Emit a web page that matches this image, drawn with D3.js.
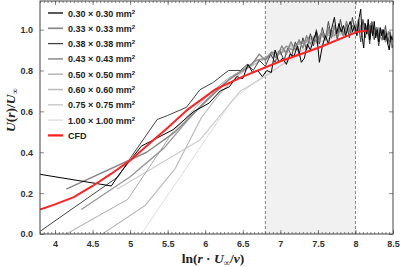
<!DOCTYPE html>
<html>
<head>
<meta charset="utf-8">
<script src="https://cdn.jsdelivr.net/npm/d3@7"></script>
<style>
  body { margin: 0; background: #fff; }
  svg { display: block; }
  .tick text { font-family: "Liberation Sans", Arial, sans-serif; font-weight: bold; font-size: 9px; fill: #333; }
</style>
</head>
<body>
<div id="chart"></div>
<script>
// legend labels and line colours
const seriesNames = ['0.30 × 0.30 mm', '0.33 × 0.33 mm', '0.38 × 0.38 mm', '0.43 × 0.43 mm',
                     '0.50 × 0.50 mm', '0.60 × 0.60 mm', '0.75 × 0.75 mm', '1.00 × 1.00 mm'];
const seriesColors = ['#000000', '#888888', '#444444', '#999999', '#aaaaaa', '#bbbbbb', '#cccccc', '#dddddd'];
const seriesWidths = [1, 1.4, 1, 1.4, 1, 1.2, 1.2, 1];

const xTicks = [4, 4.5, 5, 5.5, 6, 6.5, 7, 7.5, 8, 8.5];
const yTicks = [0, 0.2, 0.4, 0.6, 0.8, 1.0];
const shadeRange = [6.8, 8.0];

// grid series, [ln(r U/nu), U/Uinf]
const s030 = [[3.5,0.31],[4.75,0.235],[4.85,0.29],[5.15,0.43],[5.57,0.51],[5.85,0.6],[6.05,0.64],[6.2,0.7],[6.32,0.72],[6.42,0.77],[6.5,0.76],[6.57,0.83],[6.63,0.79],[6.7,0.8],[6.76,0.77],[6.82,0.8],[6.88,0.79],[6.93,0.9],[6.98,0.84],[7.03,0.86],[7.08,0.83],[7.13,0.88],[7.18,0.87],[7.23,0.92],[7.28,0.84],[7.32,0.86],[7.36,0.93],[7.4,0.9],[7.44,0.95],[7.48,0.99],[7.52,0.84],[7.56,0.92],[7.6,0.97],[7.64,0.93],[7.68,1.0],[7.72,1.06],[7.75,0.98],[7.78,1.03],[7.81,0.99],[7.84,1.02],[7.87,0.97],[7.9,1.01],[7.93,1.04],[7.96,0.99],[7.99,1.02],[8.02,0.97],[8.05,1.06],[8.07,1.1],[8.09,0.96],[8.11,0.91],[8.13,1.03],[8.15,0.98],[8.17,1.05],[8.19,0.95],[8.21,1.02],[8.23,0.97],[8.25,1.04],[8.27,0.96],[8.29,1.0],[8.31,0.94],[8.33,1.01],[8.35,0.97],[8.37,1.0],[8.39,0.95],[8.41,0.98],[8.43,0.93],[8.45,0.9],[8.47,0.97],[8.49,0.95],[8.51,0.97]];
const s033 = [[4.15,0.22],[5.22,0.40],[5.6,0.5],[5.9,0.61],[6.1,0.68],[6.3,0.75],[6.5,0.8],[6.62,0.83],[6.72,0.88],[6.8,0.85],[6.88,0.89],[6.95,0.86],[7.02,0.92],[7.08,0.88],[7.14,0.94],[7.2,0.9],[7.25,0.95],[7.3,0.91],[7.35,0.97],[7.4,0.93],[7.45,0.96],[7.5,0.93],[7.55,0.99],[7.6,0.95],[7.64,1.01],[7.68,0.96],[7.72,1.02],[7.76,0.97],[7.8,1.0],[7.84,0.97],[7.88,1.04],[7.92,0.99],[7.96,1.02],[8.0,0.99],[8.04,1.05],[8.08,0.98],[8.12,1.03],[8.16,0.98],[8.2,1.03],[8.24,0.96],[8.28,1.01],[8.32,0.96],[8.36,1.0],[8.4,0.94],[8.44,0.99],[8.48,0.93],[8.52,0.97]];
const s038 = [[3.75,0.0],[4.84,0.28],[5.0,0.37],[5.36,0.56],[5.5,0.58],[5.75,0.62],[5.93,0.706],[6.1,0.74],[6.31,0.8],[6.47,0.8],[6.56,0.83],[6.64,0.8],[6.72,0.85],[6.8,0.82],[6.87,0.88],[6.93,0.84],[6.99,0.9],[7.05,0.85],[7.1,0.91],[7.15,0.87],[7.2,0.94],[7.25,0.88],[7.3,0.96],[7.35,0.9],[7.4,0.98],[7.44,0.92],[7.48,1.0],[7.52,0.93],[7.56,1.01],[7.6,0.95],[7.64,1.04],[7.68,0.96],[7.72,1.02],[7.76,0.95],[7.8,1.05],[7.84,0.97],[7.88,1.03],[7.92,0.96],[7.96,1.06],[8.0,0.98],[8.04,1.03],[8.07,0.94],[8.1,1.05],[8.13,0.96],[8.16,1.02],[8.19,0.93],[8.22,1.04],[8.25,0.95],[8.28,1.01],[8.31,0.92],[8.34,1.0],[8.37,0.95],[8.4,1.02],[8.43,0.93],[8.46,0.99],[8.49,0.91],[8.52,0.96]];
const s043 = [[4.35,0.12],[5.0,0.28],[5.45,0.42],[5.75,0.55],[6.0,0.65],[6.2,0.72],[6.4,0.78],[6.55,0.81],[6.68,0.85],[6.8,0.86],[6.9,0.89],[7.0,0.88],[7.08,0.92],[7.16,0.9],[7.24,0.94],[7.32,0.93],[7.4,0.97],[7.47,0.94],[7.54,0.98],[7.6,0.95],[7.66,1.0],[7.72,0.97],[7.78,1.01],[7.84,0.97],[7.9,1.02],[7.95,0.98],[8.0,1.03],[8.05,0.99],[8.1,1.04],[8.15,0.98],[8.2,1.02],[8.25,0.96],[8.3,1.01],[8.35,0.95],[8.4,0.99],[8.45,0.94],[8.5,0.97]];
const s050 = [[4.15,0.0],[4.97,0.17],[5.57,0.5],[5.85,0.61],[6.1,0.7],[6.3,0.76],[6.48,0.8],[6.64,0.84],[6.78,0.86],[6.9,0.88],[7.01,0.9],[7.11,0.92],[7.2,0.92],[7.29,0.94],[7.37,0.95],[7.45,0.97],[7.52,0.96],[7.59,0.98],[7.66,0.97],[7.72,1.0],[7.78,0.98],[7.84,1.01],[7.9,0.99],[7.95,1.02],[8.0,1.0],[8.05,1.03],[8.1,0.99],[8.15,1.02],[8.2,0.98],[8.25,1.01],[8.3,0.97],[8.35,0.99],[8.4,0.96],[8.45,0.98],[8.5,0.95]];
const s060 = [[4.63,0.0],[5.2,0.14],[5.6,0.32],[5.95,0.57],[6.2,0.69],[6.42,0.77],[6.6,0.82],[6.76,0.85],[6.9,0.87],[7.03,0.89],[7.15,0.91],[7.26,0.93],[7.36,0.94],[7.45,0.96],[7.54,0.96],[7.62,0.98],[7.7,0.98],[7.77,1.0],[7.84,0.99],[7.9,1.01],[7.96,1.0],[8.02,1.02],[8.08,1.0],[8.13,1.02],[8.19,0.99],[8.24,1.01],[8.29,0.97],[8.34,0.99],[8.39,0.96],[8.44,0.98],[8.49,0.95],[8.54,0.96]];
const s075 = [[4.83,0.22],[5.93,0.46],[6.47,0.70],[6.84,0.78],[7.1,0.85],[7.3,0.9],[7.46,0.93],[7.6,0.95],[7.72,0.97],[7.82,0.98],[7.92,0.99],[8.0,1.0],[8.08,1.0],[8.15,0.99],[8.22,1.0],[8.28,0.98],[8.34,0.99],[8.4,0.97],[8.46,0.98],[8.52,0.96]];
const s100 = [[5.15,0.0],[6.0,0.46],[6.37,0.66],[6.8,0.78],[7.09,0.84],[7.31,0.88],[7.5,0.92],[7.65,0.95],[7.78,0.97],[7.9,0.98],[8.0,0.99],[8.09,1.0],[8.18,0.99],[8.26,1.0],[8.33,0.98],[8.4,0.99],[8.46,0.97],[8.52,0.98]];
const cfd  = [[3.8,0.12],[4.0,0.145],[4.25,0.18],[4.5,0.235],[4.75,0.295],[5.0,0.36],[5.25,0.44],[5.5,0.52],[5.77,0.61],[6.13,0.706],[6.5,0.77],[7.0,0.845],[7.5,0.91],[8.03,0.99],[8.15,0.995]];

const gridSeries = [s030, s033, s038, s043, s050, s060, s075, s100];

const width = 400, height = 267;
const margin = { top: 1, right: 7, bottom: 33, left: 40 };
const iw = width - margin.left - margin.right;
const ih = height - margin.top - margin.bottom;

const x = d3.scaleLinear().domain([3.8, 8.5]).range([0, iw]);
const y = d3.scaleLinear().domain([0, 1.14]).range([ih, 0]);

const svg = d3.select('#chart').append('svg')
    .attr('width', width)
    .attr('height', height);

const g = svg.append('g').attr('transform', `translate(${margin.left},${margin.top})`);

svg.append('defs').append('clipPath').attr('id', 'clip')
  .append('rect').attr('width', iw).attr('height', ih);

// shaded window
g.append('rect')
    .attr('x', x(shadeRange[0]))
    .attr('y', 0)
    .attr('width', x(shadeRange[1]) - x(shadeRange[0]))
    .attr('height', ih)
    .attr('fill', '#f1f1f1');
shadeRange.forEach(v => {
  g.append('line')
      .attr('x1', x(v)).attr('x2', x(v))
      .attr('y1', 0).attr('y2', ih)
      .attr('stroke', '#666').attr('stroke-width', 0.8)
      .attr('stroke-dasharray', '3,2');
});

const line = d3.line().x(d => x(d[0])).y(d => y(d[1]));

const lines = g.append('g').attr('clip-path', 'url(#clip)');
// lightest drawn first so the dark ones sit on top
for (let i = gridSeries.length - 1; i >= 0; i--) {
  lines.append('path')
      .datum(gridSeries[i])
      .attr('fill', 'none')
      .attr('stroke', seriesColors[i])
      .attr('stroke-width', seriesWidths[i])
      .attr('stroke-linejoin', 'round')
      .attr('d', line);
}
lines.append('path')
    .datum(cfd)
    .attr('fill', 'none')
    .attr('stroke', '#ff2222')
    .attr('stroke-width', 2)
    .attr('d', line);

// axes, ticks pointing inward
const minor = d3.range(3.8, 8.501, 0.05);
const xAxis = g.append('g').attr('transform', `translate(0,${ih})`)
    .call(d3.axisBottom(x).tickValues(xTicks).tickSizeInner(-4).tickSizeOuter(0).tickPadding(7)
      .tickFormat(d3.format('')));
xAxis.select('.domain').remove();
g.append('g').attr('transform', `translate(0,${ih})`)
    .call(d3.axisBottom(x).tickValues(minor).tickSizeInner(-2).tickSizeOuter(0).tickFormat(''))
    .call(a => a.select('.domain').remove());
g.append('g')
    .call(d3.axisTop(x).tickValues(xTicks).tickSizeInner(-4).tickSizeOuter(0).tickFormat(''))
    .call(a => a.select('.domain').remove());
g.append('g')
    .call(d3.axisTop(x).tickValues(minor).tickSizeInner(-2).tickSizeOuter(0).tickFormat(''))
    .call(a => a.select('.domain').remove());

g.append('g')
    .call(d3.axisLeft(y).tickValues(yTicks).tickSizeInner(-4).tickSizeOuter(0).tickPadding(7)
      .tickFormat(d3.format('.1f')))
    .call(a => a.select('.domain').remove());
g.append('g').attr('transform', `translate(${iw},0)`)
    .call(d3.axisRight(y).tickValues(yTicks).tickSizeInner(-4).tickSizeOuter(0).tickFormat(''))
    .call(a => a.select('.domain').remove());

g.selectAll('.tick line').attr('stroke', '#555').attr('stroke-width', 0.7);

g.append('rect')
    .attr('width', iw).attr('height', ih)
    .attr('fill', 'none').attr('stroke', '#444').attr('stroke-width', 1);

// legend
const legendNames = seriesNames.concat(['CFD']);
const legendColors = seriesColors.concat(['#ff2222']);
const legendWidths = seriesWidths.concat([2]);
const legend = g.append('g').attr('transform', 'translate(8,12)');
legendNames.forEach((name, i) => {
  const row = legend.append('g').attr('transform', `translate(0,${i * 15.3})`);
  row.append('line')
      .attr('x1', 0).attr('x2', 15)
      .attr('stroke', legendColors[i]).attr('stroke-width', legendWidths[i] + 0.3);
  const t = row.append('text')
      .attr('x', 20).attr('y', 3.5)
      .attr('font-family', '"Liberation Sans", Arial, sans-serif')
      .attr('font-weight', 'bold').attr('font-size', 9).attr('fill', '#222')
      .text(name);
  if (i < seriesNames.length) {
    t.append('tspan').attr('font-size', 6).attr('dy', -3).text('2');
  }
});

// axis titles
const serif = '"Liberation Serif", "Times New Roman", serif';
const xt = svg.append('text')
    .attr('x', 213).attr('y', 263)
    .attr('text-anchor', 'middle')
    .attr('font-family', serif).attr('font-weight', 'bold').attr('font-size', 13.5).attr('fill', '#222');
xt.append('tspan').text('ln(');
xt.append('tspan').attr('font-style', 'italic').text('r');
xt.append('tspan').text(' · ');
xt.append('tspan').attr('font-style', 'italic').text('U');
xt.append('tspan').attr('font-size', 9).attr('dy', 3).text('∞');
xt.append('tspan').attr('dy', -3).text('/');
xt.append('tspan').attr('font-style', 'italic').text('ν');
xt.append('tspan').text(')');

const yt = svg.append('text')
    .attr('transform', 'translate(15,110) rotate(-90)')
    .attr('text-anchor', 'middle')
    .attr('font-family', serif).attr('font-weight', 'bold').attr('font-size', 13.5).attr('fill', '#222');
yt.append('tspan').attr('font-style', 'italic').text('U');
yt.append('tspan').text('(');
yt.append('tspan').attr('font-style', 'italic').text('r');
yt.append('tspan').text(')/');
yt.append('tspan').attr('font-style', 'italic').text('U');
yt.append('tspan').attr('font-size', 9).attr('dy', 3).text('∞');
</script>
</body>
</html>
